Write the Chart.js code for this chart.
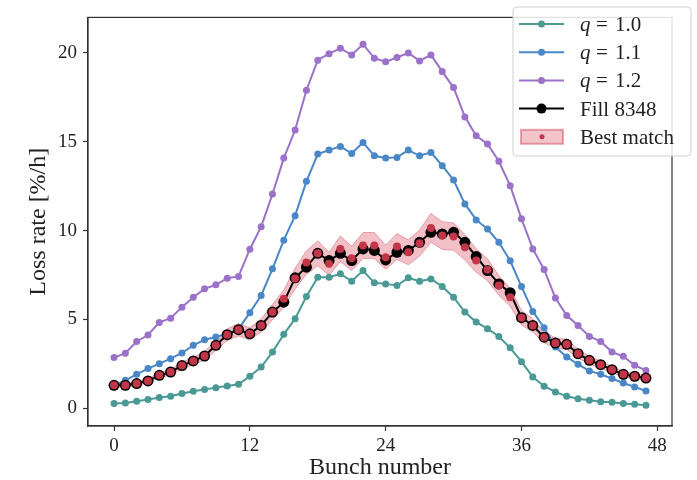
<!DOCTYPE html>
<html>
<head>
<meta charset="utf-8">
<script src="https://cdn.jsdelivr.net/npm/chart.js@4"></script>
<style>
  body { margin: 0; background: #fff; }
</style>
</head>
<body>
<canvas id="lossChart" width="697" height="480"></canvas>
<script>
// Bunch index along the train
const bunches = Array.from({ length: 48 }, (_, i) => i);
const xTicks = [0, 12, 24, 36, 48];
const yTicks = [0, 5, 10, 15, 20];

// Simulated loss rates [%/h]
const q10 = [0.26, 0.30, 0.39, 0.49, 0.60, 0.67, 0.83, 0.96, 1.05, 1.16, 1.25, 1.35,
             1.80, 2.32, 3.16, 4.16, 5.04, 6.29, 7.38, 7.38, 7.57, 7.15, 7.75, 7.06,
             7.00, 6.91, 7.34, 7.15, 7.28, 6.85, 6.25, 5.41, 4.85, 4.48, 4.04, 3.40,
             2.62, 1.76, 1.24, 0.92, 0.67, 0.54, 0.45, 0.37, 0.34, 0.26, 0.22, 0.17];
const q11 = [1.29, 1.57, 1.91, 2.23, 2.51, 2.79, 3.11, 3.54, 3.86, 4.01, 4.20, 4.45,
             5.38, 6.35, 7.85, 9.46, 10.84, 12.77, 14.31, 14.53, 14.74, 14.34, 14.96, 14.21,
             14.08, 14.12, 14.53, 14.21, 14.40, 13.65, 12.85, 11.50, 10.60, 10.09, 9.34, 8.30,
             6.85, 5.45, 4.53, 3.44, 2.88, 2.47, 2.10, 1.91, 1.67, 1.42, 1.20, 0.97];
const q12 = [2.85, 3.10, 3.76, 4.12, 4.83, 5.07, 5.69, 6.25, 6.72, 6.95, 7.32, 7.42,
             8.95, 10.22, 12.06, 14.08, 15.66, 17.90, 19.59, 19.96, 20.26, 19.89, 20.49, 19.70,
             19.50, 19.74, 20.00, 19.55, 19.89, 18.95, 18.05, 16.40, 15.34, 14.87, 13.90, 12.53,
             10.66, 8.97, 7.81, 6.20, 5.22, 4.66, 4.04, 3.76, 3.16, 2.92, 2.42, 2.13];

// Measured loss rate, fill 8348
const fill8348 = [1.29, 1.29, 1.39, 1.54, 1.85, 2.04, 2.40, 2.66, 2.94, 3.54, 4.14, 4.42,
                  4.19, 4.66, 5.41, 5.97, 7.34, 7.94, 8.72, 8.31, 8.72, 8.31, 8.97, 8.88,
                  8.35, 8.78, 8.88, 9.34, 9.90, 9.81, 9.90, 9.34, 8.54, 7.75, 7.00, 6.50,
                  5.10, 4.66, 4.00, 3.67, 3.60, 3.07, 2.70, 2.45, 2.17, 1.91, 1.80, 1.70];

// Best match and its band
const bestMatch = [1.29, 1.29, 1.39, 1.54, 1.85, 2.04, 2.40, 2.66, 2.94, 3.54, 4.14, 4.42,
                   4.19, 4.66, 5.41, 6.16, 7.30, 8.20, 8.72, 8.13, 8.97, 8.44, 9.16, 9.16,
                   8.50, 9.10, 8.78, 9.29, 10.15, 9.72, 9.66, 9.06, 8.31, 7.79, 6.91, 6.25,
                   5.10, 4.66, 4.00, 3.67, 3.60, 3.07, 2.70, 2.45, 2.17, 1.91, 1.80, 1.70];
const bandLow = [1.19, 1.19, 1.28, 1.42, 1.70, 1.88, 2.21, 2.45, 2.70, 3.26, 3.81, 4.07,
                 3.85, 4.29, 4.98, 5.67, 6.72, 7.54, 8.02, 7.48, 8.25, 7.76, 8.43, 8.43,
                 7.82, 8.37, 8.08, 8.55, 9.34, 8.94, 8.89, 8.34, 7.65, 7.17, 6.36, 5.75,
                 4.69, 4.29, 3.68, 3.38, 3.31, 2.82, 2.48, 2.25, 2.00, 1.76, 1.66, 1.56];
const bandHigh = [1.39, 1.39, 1.50, 1.66, 2.00, 2.20, 2.59, 2.87, 3.18, 3.82, 4.47, 4.77,
                  4.53, 5.03, 5.84, 6.65, 7.88, 8.86, 9.42, 8.78, 9.69, 9.12, 9.89, 9.89,
                  9.18, 9.83, 9.48, 10.03, 10.96, 10.50, 10.43, 9.78, 8.97, 8.41, 7.46, 6.75,
                  5.51, 5.03, 4.32, 3.96, 3.89, 3.32, 2.92, 2.65, 2.34, 2.06, 1.94, 1.84];

const TEAL = '#4a9995';
const BLUE = '#4a87c7';
const PURPLE = '#9b71c9';
const RED = '#c23649';
const SERIF = '"Liberation Serif", "DejaVu Serif", serif';

function curve(label, data, color, order) {
    return {
        label: label,
        data: data,
        borderColor: color,
        backgroundColor: color,
        borderWidth: 2,
        pointRadius: 3.5,
        pointBorderWidth: 0,
        pointBackgroundColor: color,
        fill: false,
        order: order
    };
}

// Frame around the axes and the legend box (drawn by hand, as matplotlib does)
const framePlugin = {
    id: 'frameAndLegend',
    afterDraw(chart) {
        const ctx = chart.ctx;
        const a = chart.chartArea;
        ctx.save();
        ctx.strokeStyle = '#333';
        ctx.lineWidth = 1.2;
        ctx.strokeRect(a.left, a.top, a.right - a.left, a.bottom - a.top);

        // legend
        const bx = 513, by = 7, bw = 178, bh = 149;
        ctx.fillStyle = 'rgba(255,255,255,0.85)';
        ctx.strokeStyle = '#d0d0d0';
        ctx.lineWidth = 1;
        ctx.beginPath();
        ctx.roundRect(bx, by, bw, bh, 4);
        ctx.fill();
        ctx.stroke();

        const rows = [
            { kind: 'q', value: '1.0', color: TEAL },
            { kind: 'q', value: '1.1', color: BLUE },
            { kind: 'q', value: '1.2', color: PURPLE },
            { kind: 'line', text: 'Fill 8348', color: '#000' },
            { kind: 'patch', text: 'Best match', color: RED }
        ];
        ctx.textBaseline = 'alphabetic';
        rows.forEach((r, i) => {
            const y = 24 + i * 28.2;
            if (r.kind === 'patch') {
                ctx.fillStyle = 'rgba(220,90,105,0.35)';
                ctx.strokeStyle = 'rgba(200,60,80,0.45)';
                ctx.fillRect(521, y - 7, 42, 14);
                ctx.strokeRect(521, y - 7, 42, 14);
                ctx.fillStyle = RED;
                ctx.beginPath();
                ctx.arc(542, y, 2.5, 0, Math.PI * 2);
                ctx.fill();
            } else {
                ctx.strokeStyle = r.color;
                ctx.lineWidth = 2;
                ctx.beginPath();
                ctx.moveTo(519, y);
                ctx.lineTo(564, y);
                ctx.stroke();
                ctx.fillStyle = r.color;
                ctx.beginPath();
                ctx.arc(541.5, y, r.kind === 'line' ? 5 : 3.5, 0, Math.PI * 2);
                ctx.fill();
            }
            ctx.fillStyle = '#222';
            const base = y + 7;
            if (r.kind === 'q') {
                ctx.font = 'italic 21px ' + SERIF;
                ctx.fillText('q', 580, base);
                ctx.font = '21px ' + SERIF;
                ctx.fillText('=', 596, base);
                ctx.fillText(r.value, 615, base);
            } else {
                ctx.font = '21px ' + SERIF;
                ctx.fillText(r.text, 580, base);
            }
        });
        ctx.restore();
    }
};

const ctx = document.getElementById('lossChart').getContext('2d');
new Chart(ctx, {
    type: 'line',
    data: {
        labels: bunches,
        datasets: [
            {
                label: 'Best match',
                data: bestMatch,
                showLine: false,
                pointRadius: 4,
                pointBorderWidth: 0,
                pointBackgroundColor: RED,
                order: 0
            },
            {
                label: 'Fill 8348',
                data: fill8348,
                borderColor: '#000',
                borderWidth: 2,
                pointRadius: 5.5,
                pointBorderWidth: 0,
                pointBackgroundColor: '#000',
                fill: false,
                order: 1
            },
            curve('q = 1.2', q12, PURPLE, 2),
            curve('q = 1.1', q11, BLUE, 3),
            curve('q = 1.0', q10, TEAL, 4),
            {
                label: 'band high',
                data: bandHigh,
                borderColor: 'rgba(200,60,80,0.4)',
                borderWidth: 1,
                pointRadius: 0,
                backgroundColor: 'rgba(220,90,105,0.38)',
                fill: '+1',
                order: 5
            },
            {
                label: 'band low',
                data: bandLow,
                borderColor: 'rgba(200,60,80,0.4)',
                borderWidth: 1,
                pointRadius: 0,
                fill: false,
                order: 6
            }
        ]
    },
    options: {
        responsive: false,
        animation: false,
        devicePixelRatio: 1,
        layout: { padding: { top: 17, right: 25, left: 0, bottom: 0 } },
        plugins: {
            legend: { display: false },
            tooltip: { enabled: false }
        },
        scales: {
            x: {
                type: 'linear',
                min: -2.3,
                max: 49.3,
                afterBuildTicks: (s) => { s.ticks = xTicks.map(v => ({ value: v })); },
                afterFit: (s) => { s.height = 54; },
                grid: { drawOnChartArea: false, tickLength: 5, tickColor: '#333', tickWidth: 1.2 },
                border: { color: '#333', width: 1.2 },
                ticks: { color: '#222', padding: 4, font: { family: SERIF, size: 19 } },
                title: {
                    display: true,
                    text: 'Bunch number',
                    color: '#222',
                    padding: 0,
                    font: { family: SERIF, size: 24, lineHeight: 1 }
                }
            },
            y: {
                min: -1.0,
                max: 22.0,
                afterBuildTicks: (s) => { s.ticks = yTicks.map(v => ({ value: v })); },
                afterFit: (s) => { s.width = 88; },
                grid: { drawOnChartArea: false, tickLength: 5, tickColor: '#333', tickWidth: 1.2 },
                border: { color: '#333', width: 1.2 },
                ticks: { color: '#222', padding: 6, font: { family: SERIF, size: 19 } },
                title: {
                    display: true,
                    text: 'Loss rate [%/h]',
                    color: '#222',
                    padding: { top: 27, bottom: 0 },
                    font: { family: SERIF, size: 24, lineHeight: 1 }
                }
            }
        }
    },
    plugins: [framePlugin]
});
</script>
</body>
</html>
